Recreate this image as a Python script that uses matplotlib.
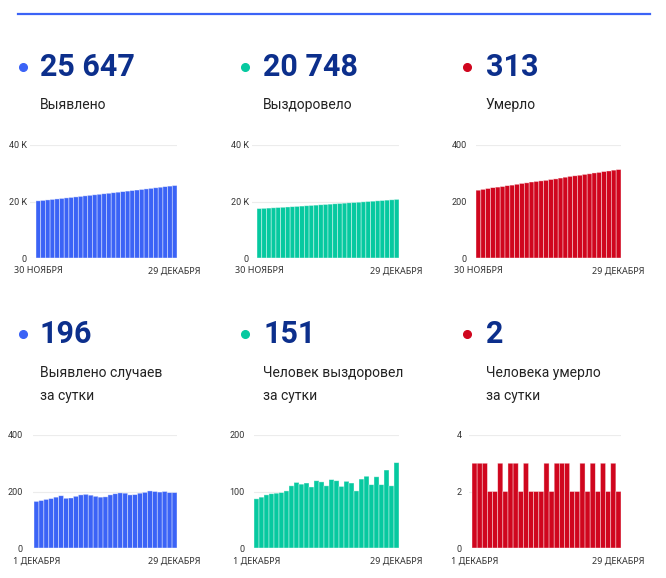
import matplotlib.pyplot as plt
from matplotlib.lines import Line2D

plt.rcParams['font.family'] = ['Roboto', 'Noto Sans', 'DejaVu Sans']

# cumulative, 30 Nov .. 29 Dec
cases_total = [20228, 20393, 20561, 20733, 20908, 21088, 21273, 21449, 21626, 21809,
               21997, 22187, 22374, 22557, 22737, 22918, 23106, 23298, 23493, 23687,
               23875, 24064, 24258, 24455, 24657, 24857, 25055, 25255, 25451, 25647]
recovered_total = [17496, 17583, 17673, 17767, 17863, 17960, 18058, 18159, 18269, 18385,
                   18498, 18613, 18721, 18840, 18957, 19067, 19188, 19307, 19416, 19534,
                   19649, 19750, 19872, 19999, 20111, 20237, 20349, 20487, 20597, 20748]
deaths_total = [240, 243, 246, 249, 251, 253, 256, 258, 261, 264,
                266, 269, 271, 273, 275, 278, 280, 283, 286, 289,
                291, 293, 296, 298, 301, 303, 306, 308, 311, 313]

# daily, 1 Dec .. 29 Dec
cases_daily = [165, 168, 172, 175, 180, 185, 176, 177, 183, 188, 190, 187, 183, 180, 181,
               188, 192, 195, 194, 188, 189, 194, 197, 202, 200, 198, 200, 196, 196]
recovered_daily = [87, 90, 94, 96, 97, 98, 101, 110, 116, 113, 115, 108, 119, 117, 110,
                   121, 119, 109, 118, 115, 101, 122, 127, 112, 126, 112, 138, 110, 151]
deaths_daily = [3, 3, 3, 2, 2, 3, 2, 3, 3, 2, 3, 2, 2, 2, 3,
                2, 3, 3, 3, 2, 2, 3, 2, 3, 2, 3, 2, 3, 2]

headline_values = ['25 647', '20 748', '313', '196', '151', '2']
headline_labels = ['Выявлено', 'Выздоровело', 'Умерло',
                   'Выявлено случаев\nза сутки', 'Человек выздоровел\nза сутки',
                   'Человека умерло\nза сутки']
yticks = [[0, 20000, 40000], [0, 20000, 40000], [0, 200, 400],
          [0, 200, 400], [0, 100, 200], [0, 2, 4]]
ytick_labels = [['0', '20 K', '40 K'], ['0', '20 K', '40 K'], ['0', '200', '400'],
                ['0', '200', '400'], ['0', '100', '200'], ['0', '2', '4']]
date_labels = [['30 НОЯБРЯ', '29 ДЕКАБРЯ']] * 3 + [['1 ДЕКАБРЯ', '29 ДЕКАБРЯ']] * 3

series = [cases_total, recovered_total, deaths_total,
          cases_daily, recovered_daily, deaths_daily]

W, H = 666, 578
BLUE = '#3b63f6'
GREEN = '#06c9a0'
RED = '#d0061e'
NAVY = '#0c2f8c'
colors = [BLUE, GREEN, RED] * 2

fig = plt.figure(figsize=(W / 100, H / 100), dpi=100)


def fx(px):
    return px / W


def fy(py):
    return 1 - py / H


# top rule
fig.add_artist(Line2D([fx(18), fx(650)], [fy(14), fy(14)], color=BLUE, lw=1.6))

dot_x = [23, 245, 467]
num_x = [40, 263, 486]
num_y = [67, 334]
label_y = [105, 373]

# panel layout in px: grid start, bar start, bar end, top, zero line, label pad
panels = [(30, 36, 177, 145, 258, 3), (252, 257, 399, 145, 258, 3), (476, 476, 621, 145, 258, 9),
          (33, 34, 177, 435, 548, 10), (254, 254, 399, 435, 548, 9), (469, 472, 621, 435, 548, 7)]

for i in range(6):
    row, col = divmod(i, 3)
    c = colors[i]

    fig.add_artist(Line2D([fx(dot_x[col])], [fy(num_y[row])], marker='o', markersize=5.5,
                          color=c, transform=fig.transFigure))
    fig.text(fx(num_x[col]), fy(num_y[row]), headline_values[i], fontsize=22,
             fontweight='bold', color=NAVY, va='center', ha='left')
    for k, line in enumerate(headline_labels[i].split('\n')):
        fig.text(fx(num_x[col]), fy(label_y[row] + 23 * k), line, fontsize=10,
                 color='#222222', va='center', ha='left')

    gx, bx0, bx1, ytop, yzero, pad = panels[i]
    vals = series[i]
    n = len(vals)
    ax = fig.add_axes([fx(gx), fy(yzero), (bx1 - gx) / W, (yzero - ytop) / H])
    ax.bar(range(n), vals, width=1.0, color=c, edgecolor=(1, 1, 1, 0.55),
           linewidth=0.5, snap=False, zorder=2)
    pitch = (bx1 - bx0) / n
    ax.set_xlim(-0.5 - (bx0 - gx) / pitch, n - 0.5)
    ax.set_ylim(0, yticks[i][-1])
    ax.set_yticks(yticks[i])
    ax.set_yticklabels(ytick_labels[i])
    ax.set_xticks([0, n - 1])
    ax.set_xticklabels(date_labels[i], family=['Noto Sans', 'DejaVu Sans'])
    ax.tick_params(length=0, labelsize=6.5, colors='#333333')
    ax.tick_params(axis='y', pad=pad * 0.72)
    ax.tick_params(axis='x', pad=6)
    ax.grid(axis='y', color='#ececec', lw=0.8, zorder=0)
    for s in ax.spines.values():
        s.set_visible(False)

fig.savefig('out.png', dpi=100)
